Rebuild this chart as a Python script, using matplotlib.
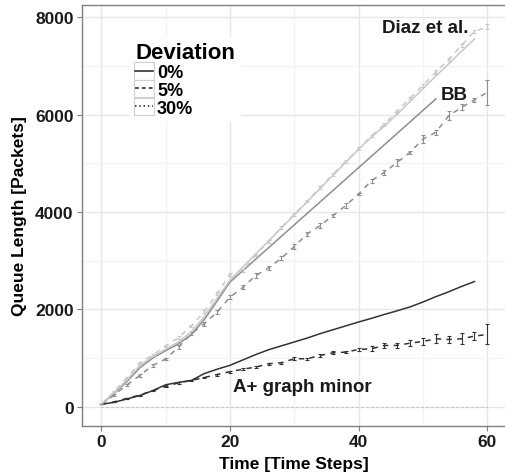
import matplotlib
matplotlib.use('Agg')
import matplotlib.pyplot as plt
from matplotlib.legend_handler import HandlerLine2D
from matplotlib.lines import Line2D
from matplotlib.patches import Rectangle

plt.rcParams['font.family'] = 'Liberation Sans'
plt.rcParams['font.weight'] = 'bold'
plt.rcParams['axes.labelweight'] = 'bold'

# time steps
steps = [0, 2, 4, 6, 8, 10, 12, 14, 16, 18, 20, 22, 24, 26, 28, 30,
         32, 34, 36, 38, 40, 42, 44, 46, 48, 50, 52, 54, 56, 58, 60]

# A+ graph minor
aplus_0 = [50, 90, 160, 230, 330, 450, 500, 540, 680, 770, 850, 960, 1070, 1170,
           1250, 1330, 1410, 1500, 1580, 1660, 1740, 1815, 1895, 1970, 2050,
           2150, 2260, 2360, 2470, 2570]
aplus_5 = [50, 100, 170, 240, 330, 420, 490, 540, 600, 660, 720, 770, 814, 882,
           903, 985, 985, 1053, 1108, 1121, 1176, 1190, 1258, 1258, 1306, 1340,
           1395, 1381, 1395, 1450, 1484]
aplus_5_err = [0, 5, 8, 10, 10, 12, 15, 15, 18, 20, 20, 22, 25, 25, 20, 35, 20,
               25, 35, 25, 35, 55, 60, 45, 65, 75, 90, 65, 110, 80, 205]

# BB
bb_0 = [50, 270, 520, 800, 1000, 1150, 1290, 1480, 1790, 2170, 2560, 2795, 3030,
        3265, 3500, 3735, 3970, 4205, 4440, 4675, 4910, 5145, 5380, 5615, 5850,
        6085, 6320]
bb_5 = [50, 240, 450, 643, 848, 980, 1224, 1497, 1703, 1942, 2250, 2450, 2694,
        2850, 3050, 3290, 3549, 3719, 3924, 4130, 4369, 4642, 4814, 5019, 5225,
        5497, 5635, 5976, 6147, 6300, 6455]
bb_5_err = [0, 15, 25, 25, 30, 25, 35, 30, 40, 35, 45, 40, 60, 50, 45, 60, 35,
            45, 30, 50, 30, 40, 50, 70, 30, 80, 50, 90, 60, 40, 255]

# Diaz et al.
diaz_0 = [50, 290, 550, 850, 1030, 1180, 1330, 1540, 1850, 2230, 2600, 2870,
          3140, 3400, 3670, 3940, 4210, 4480, 4750, 5020, 5290, 5540, 5760, 6010,
          6270, 6530, 6790, 7040, 7300, 7550]
diaz_5 = [50, 310, 600, 900, 1060, 1250, 1420, 1660, 1950, 2320, 2720, 2800,
          3120, 3400, 3680, 3950, 4220, 4500, 4770, 5040, 5300, 5560, 5800, 6070,
          6340, 6600, 6870, 7140, 7420, 7710, 7800]
diaz_5_err = [0, 15, 20, 25, 20, 25, 30, 25, 30, 35, 30, 30, 25, 30, 35, 30, 25,
              30, 35, 30, 25, 30, 35, 30, 25, 30, 35, 30, 35, 30, 50]

# 30% deviation: all stay at zero
zero_30 = [0] * len(steps)

deviations = ['0%', '5%', '30%']
c_aplus, c_bb, c_diaz = '#333333', '#8E8E8E', '#C8C8C8'
dash = (3.5, 3.5)
dot = (2.0, 1.6)

fig = plt.figure(figsize=(5.05, 4.77), dpi=100)
ax = fig.add_axes([82 / 505, 50.3 / 477, 424.6 / 505, 420.7 / 477])

series = [
    (aplus_0, aplus_5, aplus_5_err, c_aplus),
    (bb_0, bb_5, bb_5_err, c_bb),
    (diaz_0, diaz_5, diaz_5_err, c_diaz),
]
for v0, v5, e5, col in series:
    ax.plot(steps[:len(v0)], v0, color=col, lw=1.1, zorder=3)
    eb = ax.errorbar(steps, v5, yerr=e5, color=col, lw=1.1, elinewidth=0.8,
                     capsize=1.4, capthick=0.8, zorder=3)
    eb[0].set_dashes(dash)
    ax.plot(steps, zero_30, color=col, lw=1.0, dashes=dot, zorder=2.5,
            antialiased=False)

lab_kw = dict(ha='center', va='baseline', fontsize=13.5, fontweight='bold',
              color='#1A1A1A')
ax.text(50.4, 7691, 'Diaz et al.', **lab_kw)
ax.text(54.8, 6321, 'BB', **lab_kw)
ax.text(31.3, 329, 'A+ graph minor', **lab_kw)

ax.set_xlim(-3, 63)
ax.set_ylim(-390, 8250)
ax.set_xticks([0, 20, 40, 60])
ax.set_xticks([10, 30, 50], minor=True)
ax.set_yticks([0, 2000, 4000, 6000, 8000])
ax.set_yticks([1000, 3000, 5000, 7000], minor=True)
ax.grid(which='major', color='#E6E6E6', lw=1.0, zorder=0)
ax.grid(which='minor', color='#F4F4F4', lw=1.0, zorder=0)
ax.set_axisbelow(True)
ax.tick_params(which='major', length=3.6, width=0.8, color='#7F7F7F', pad=2.5,
               labelsize=12.5, labelcolor='#1A1A1A')
ax.tick_params(which='minor', length=0)
for lab in ax.get_xticklabels() + ax.get_yticklabels():
    lab.set_fontweight('bold')
for s in ax.spines.values():
    s.set_color('#7F7F7F')
    s.set_linewidth(1.0)

ax.set_xlabel('Time [Time Steps]', fontsize=12.5, fontweight='bold', labelpad=5)
ax.set_ylabel('Queue Length [Packets]', fontsize=12.5, fontweight='bold',
              labelpad=6)


class BoxedHandler(HandlerLine2D):
    def create_artists(self, legend, orig_handle, xdescent, ydescent, width,
                       height, fontsize, trans):
        arts = super().create_artists(legend, orig_handle, xdescent, ydescent,
                                      width, height, fontsize, trans)
        p = 0.1 * fontsize
        box = Rectangle((-xdescent - p, -ydescent - p), width + 2 * p,
                        height + 2 * p, facecolor='white', edgecolor='#D0D0D0',
                        lw=0.8, transform=trans)
        return [box] + arts


handles = [Line2D([], [], color='#222222', lw=1.1),
           Line2D([], [], color='#222222', lw=1.1, dashes=(2.5, 2)),
           Line2D([], [], color='#222222', lw=1.1, dashes=(1, 1.8))]
leg = ax.legend(handles, deviations, title='Deviation', loc='upper left',
                bbox_to_anchor=(0.113, 0.924), frameon=True,
                prop={'size': 13, 'weight': 'bold'},
                fancybox=False, edgecolor='none', facecolor='white',
                framealpha=1, borderpad=0.3, labelspacing=0.03,
                handlelength=0.95, handleheight=0.8, handletextpad=0.25,
                borderaxespad=0, handler_map={Line2D: BoxedHandler()})
leg.get_title().set_fontsize(16)
leg.get_title().set_fontweight('bold')
leg._legend_box.align = 'left'
leg.set_zorder(5)

fig.savefig('out.png', dpi=100)
